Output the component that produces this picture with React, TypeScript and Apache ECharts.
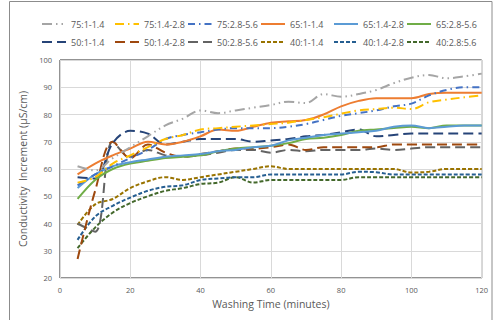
import React, { useEffect, useRef } from "react";
import * as echarts from "echarts";

const times = [5, 10, 15, 20, 25, 30, 35, 40, 45, 50, 55, 60, 65, 70, 75, 80, 85, 90, 95, 100, 105, 110, 115, 120];

const seriesNames = [
  "75:1-1.4", "75:1.4-2.8", "75:2.8-5.6", "65:1-1.4", "65:1.4-2.8", "65:2.8-5.6",
  "50:1-1.4", "50:1.4-2.8", "50:2.8-5.6", "40:1-1.4", "40:1.4-2.8", "40:2.8:5.6",
];

const s75a = [61, 59.5, 64, 68, 72, 76, 78.5, 81.5, 80.5, 81.5, 82.5, 83.5, 84.7, 84.2, 87.5, 86.5, 87.5, 89, 91.5, 93.5, 94.5, 93.3, 94, 95];
const s75b = [55, 57, 62, 65, 68, 71, 72.5, 74.5, 75, 75.5, 76, 76.5, 77, 78, 79, 80.3, 81.5, 82, 82.5, 82, 84.5, 85.5, 86.3, 87];
const s75c = [54, 58, 61, 64, 67, 71, 72.5, 73.5, 74.5, 75, 75, 75, 75.5, 76.5, 78, 79.5, 80.5, 81.5, 83, 84, 87, 89, 90, 90];
const s65a = [58, 62, 65, 67.5, 70, 69, 70, 72, 74.5, 74, 75.5, 77, 77.5, 78, 80, 83, 85, 86, 86, 86, 87.5, 88, 88, 88];
const s65b = [53, 58, 61, 62.5, 63.5, 64.5, 65, 65.5, 66.5, 67, 68, 68.5, 70.5, 71.5, 72.5, 73, 73.5, 74, 75.5, 76, 75, 75.5, 76, 76];
const s65c = [49, 56, 60, 62, 63, 64, 64.5, 65, 66.5, 67.5, 68, 68.5, 69.5, 71, 71.5, 72.5, 74, 74.5, 75, 75.5, 75, 76, 76, 76];
const s50a = [57, 56.5, 69.5, 74, 73, 69, 70, 71, 71, 71, 70, 70.5, 71, 72, 72.5, 73.5, 74.5, 72, 72.5, 73, 73, 73, 73, 73];
const s50b = [27, 52, 70, 64, 69, 66, 64.5, 65.5, 66.5, 67.5, 67.5, 68, 69, 67, 68, 68, 68, 68, 69, 69, 69, 69, 69, 69];
const s50c = [40, 37, 70, 64.5, 67, 65, 64.5, 65, 66, 67, 67, 66, 67, 66.5, 67, 67, 67, 67.5, 67, 67.5, 68, 68, 68, 68];
const s40a = [39.5, 47, 49, 53, 55.5, 57, 56, 57, 58, 59, 60, 61, 60, 60, 60, 60, 60, 60, 60, 58.7, 59, 60, 60, 60];
const s40b = [34, 42.5, 46.5, 49.5, 52, 53.5, 54, 56, 56.5, 57, 57, 58, 58, 58, 58, 58, 59, 58.8, 58, 58, 58, 58, 58, 58];
const s40c = [31, 38.5, 44, 47.5, 50, 52, 53, 54.5, 55, 57, 55, 56, 56, 56, 56, 56, 57, 57, 57, 57, 57, 57, 57, 57];

const xTicks = [0, 20, 40, 60, 80, 100, 120];
const yTicks = [20, 30, 40, 50, 60, 70, 80, 90, 100];

const allValues = [s75a, s75b, s75c, s65a, s65b, s65c, s50a, s50b, s50c, s40a, s40b, s40c];
const colors = ["#A5A5A5", "#FFC000", "#4472C4", "#ED7D31", "#5B9BD5", "#70AD47", "#264478", "#9E480E", "#636363", "#997300", "#255E91", "#43682B"];
const dashes: any[] = [
  [10, 4, 1.5, 4, 1.5, 4], [9, 4, 1.5, 4], [7, 4, 1.5, 4],
  "solid", "solid", "solid",
  [10, 5], [10, 5], [10, 5],
  [4, 2], [4, 2], [4, 2],
];

const FONT = "Open Sans";
const GRAY = "#595959";

export default function App() {
  const ref = useRef<HTMLDivElement>(null);
  useEffect(() => {
    if (!ref.current) return;
    const chart = echarts.init(ref.current, undefined, { renderer: "svg" });
    const series = seriesNames.map((name, i) => ({
      name,
      type: "line",
      data: times.map((t, j) => [t, allValues[i][j]]),
      smooth: 0.35,
      symbol: "none",
      lineStyle: { color: colors[i], width: 2, type: dashes[i], cap: "butt" },
      itemStyle: { color: colors[i] },
      z: 12 - i,
    }));
    const legendBase = {
      left: 41,
      orient: "horizontal",
      itemWidth: 24,
      itemHeight: 12,
      itemGap: 0,
      padding: 0,
      selectedMode: false,
      itemStyle: { opacity: 0 },
      textStyle: { fontSize: 9, color: GRAY, fontFamily: FONT, width: 43, overflow: "none", lineHeight: 12 },
    };
    chart.setOption({
      animation: false,
      backgroundColor: "#fff",
      textStyle: { fontFamily: FONT },
      legend: [
        { ...legendBase, top: 18, data: seriesNames.slice(0, 6) },
        { ...legendBase, top: 36, data: seriesNames.slice(6) },
      ],
      grid: {
        left: 60, top: 60, width: 421.7, height: 218,
        show: true, borderColor: "#262626", borderWidth: 1, backgroundColor: "transparent",
      },
      xAxis: {
        type: "value", min: xTicks[0], max: xTicks[xTicks.length - 1], interval: 20,
        name: "Washing Time (minutes)", nameLocation: "middle", nameGap: 15,
        nameTextStyle: { fontSize: 10.5, color: GRAY, fontFamily: FONT },
        axisLine: { show: false }, axisTick: { show: false },
        axisLabel: { fontSize: 7.5, color: GRAY, margin: 8, fontFamily: FONT },
        splitLine: { show: true, lineStyle: { color: "#D9D9D9", width: 1 } },
      },
      yAxis: {
        type: "value", min: yTicks[0], max: yTicks[yTicks.length - 1], interval: 10,
        name: "Conductivity  Increment (µS/cm)", nameLocation: "middle", nameGap: 26,
        nameTextStyle: { fontSize: 10.5, color: GRAY, fontFamily: FONT },
        axisLine: { show: false }, axisTick: { show: false },
        axisLabel: { fontSize: 7.5, color: GRAY, margin: 8, fontFamily: FONT },
        splitLine: { show: true, lineStyle: { color: "#D9D9D9", width: 1 } },
      },
      graphic: [
        { type: "rect", shape: { x: 9.5, y: 1.5, width: 482.5, height: 345 }, style: { fill: "none", stroke: "#8c8c8c", lineWidth: 1 }, silent: true, z: 100 },
      ],
      series,
    });
    return () => chart.dispose();
  }, []);
  return <div ref={ref} style={{ position: "fixed", left: 0, top: 0, width: 494, height: 320 }} />;
}
